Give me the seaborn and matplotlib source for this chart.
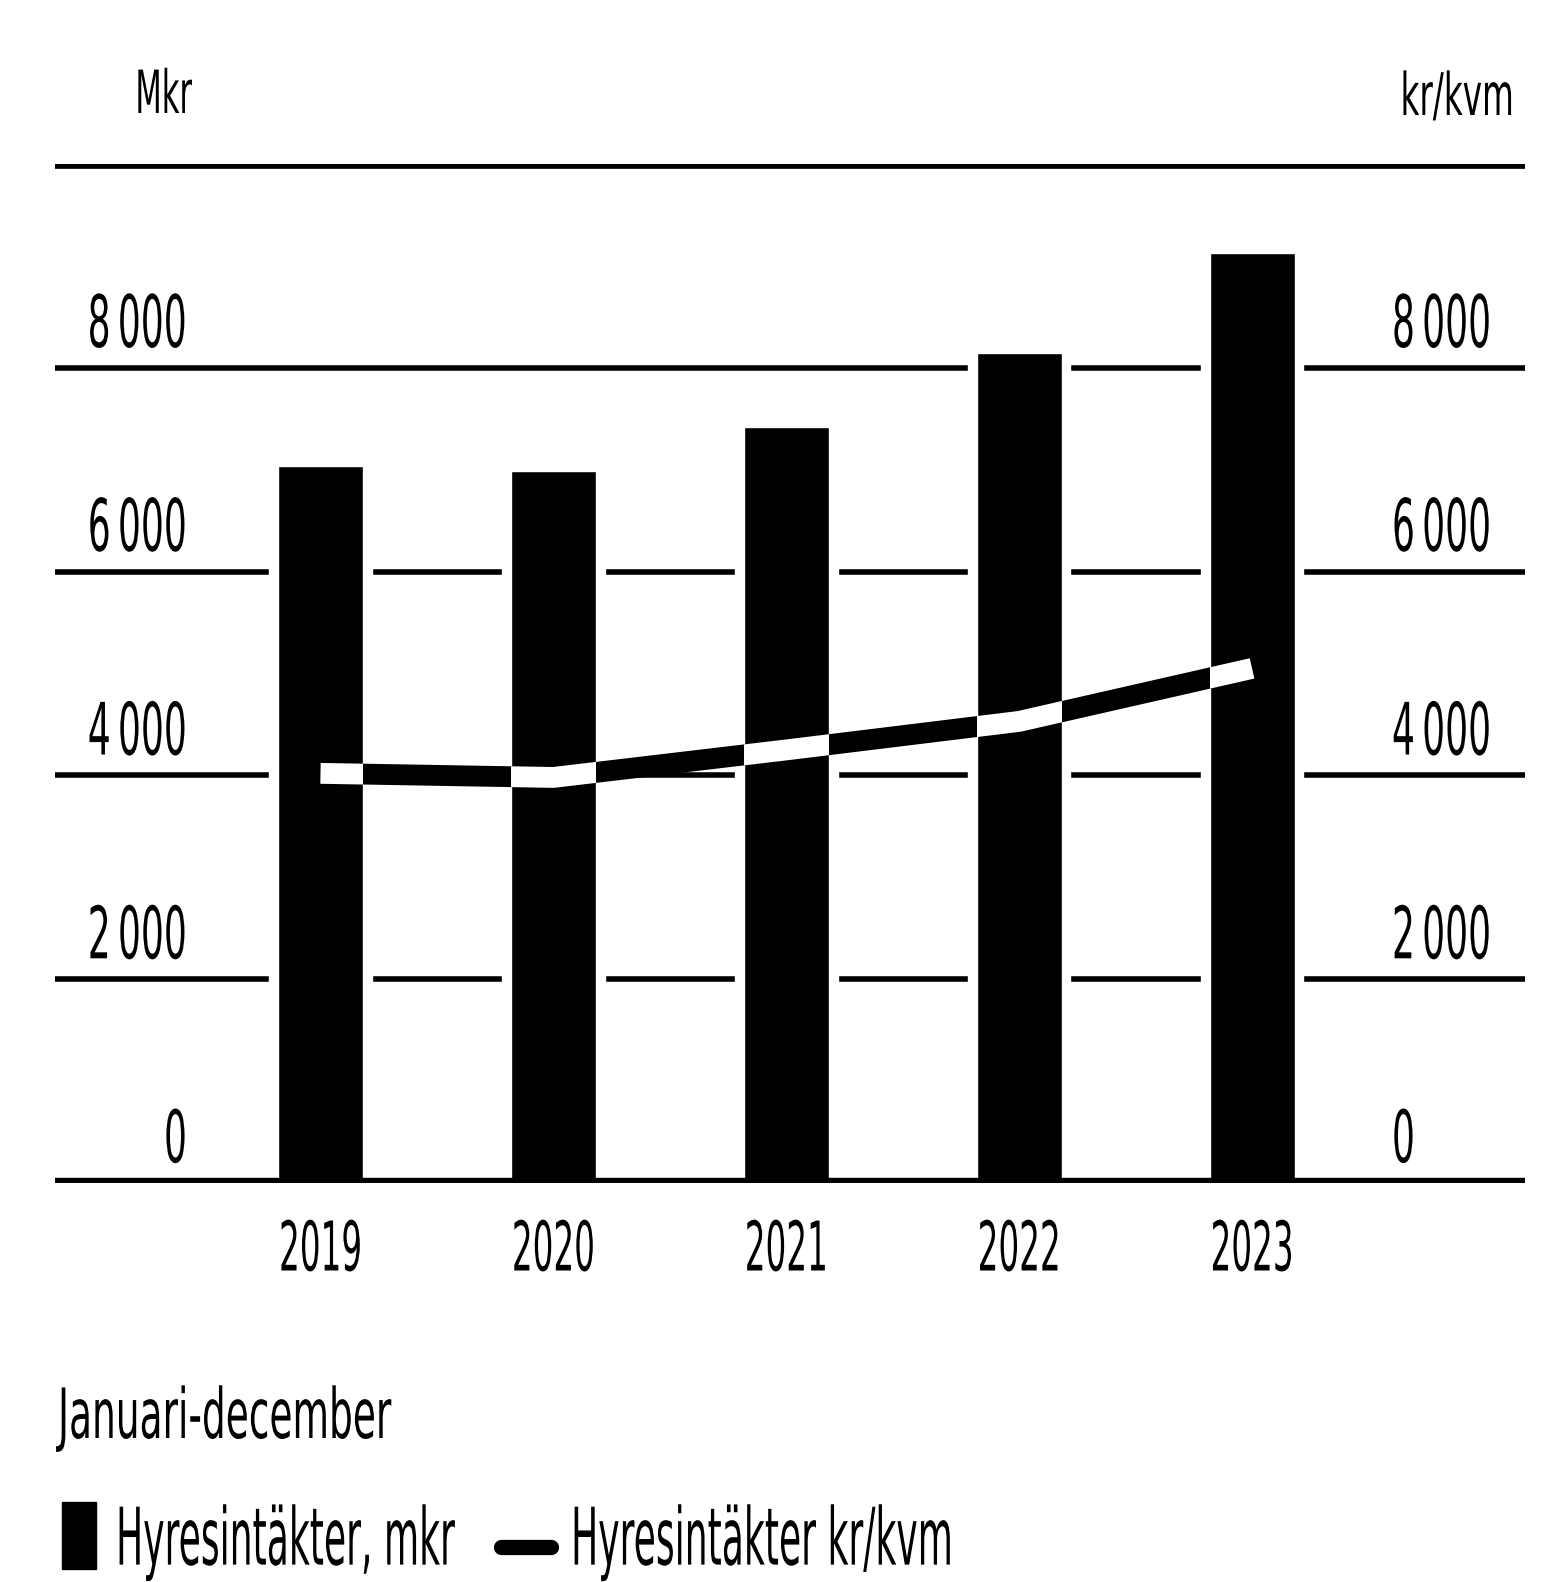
import matplotlib
matplotlib.use("Agg")
import matplotlib.pyplot as plt
import seaborn as sns
import pandas as pd
from matplotlib.patches import Rectangle
from matplotlib.lines import Line2D
from matplotlib.legend_handler import HandlerPatch
from matplotlib.patheffects import AbstractPathEffect
from matplotlib.transforms import Affine2D

# data
years = ["2019", "2020", "2021", "2022", "2023"]
mkr = [7040, 6990, 7420, 8150, 9130]          # Hyresintäkter, mkr (bars)
kr_kvm = [4020, 3980, 4250, 4530, 5050]       # Hyresintäkter kr/kvm (line)
ticks = [0, 2000, 4000, 6000, 8000]
tick_labels = ["0", "2\u2009000", "4\u2009000", "6\u2009000", "8\u2009000"]

df = pd.DataFrame({"year": years, "mkr": mkr, "kvm": kr_kvm, "pos": range(len(years))})


class Tall(AbstractPathEffect):
    """stretch glyphs upward from the baseline (the source uses a tall narrow face)"""
    def __init__(self, sy):
        super().__init__()
        self.sy = sy

    def draw_path(self, renderer, gc, tpath, affine, rgbFace=None):
        renderer.draw_path(gc, tpath, Affine2D().scale(1, self.sy) + affine, rgbFace)


sns.set_style("white")
plt.rcParams["font.family"] = ["DejaVu Sans"]
plt.rcParams["text.color"] = "black"
plt.rcParams["xtick.color"] = "black"

W, H = 1548, 1582
fig = plt.figure(figsize=(W / 100, H / 100), dpi=100)
ax = fig.add_axes([55 / W, 1 - 1183 / H, 1470 / W, 1019 / H])

# gridlines first, white wider bars cut gaps into them
for t in ticks[1:]:
    ax.axhline(t, color="black", lw=4.0, zorder=0)
sns.barplot(data=df, x="year", y="mkr", color="white", width=0.44,
            saturation=1, ax=ax, zorder=1)
n_white = len(ax.patches)
sns.barplot(data=df, x="year", y="mkr", color="black", width=0.365,
            saturation=1, ax=ax, zorder=2)
bars = ax.patches[n_white:]

ax.axhline(0, color="black", lw=7.5, zorder=3)
ax.axhline(10000, color="black", lw=7.0, zorder=3)

# the line: black on white, white where it crosses the bars
sns.lineplot(data=df, x="pos", y="kvm", color="black", lw=15, ax=ax,
             zorder=4, solid_capstyle="butt")
for b in bars:
    ln, = ax.plot(df["pos"], df["kvm"], color="white", lw=15, zorder=5,
                  solid_capstyle="butt")
    ln.set_clip_path(b)

ax.set_xlim(-1.14, 5.172)
ax.set_ylim(0, 10000)
for s in ax.spines.values():
    s.set_visible(False)
ax.set_yticks([])
ax.set_xticks(range(len(years)))
ax.tick_params(axis="x", length=0, pad=63)
ax.set_xticklabels(years, fontsize=23.5, va="baseline",
                   path_effects=[Tall(2.1)])
ax.set_xlabel("")
ax.set_ylabel("")

# axis values drawn above the gridlines on both sides
for t, lab in zip(ticks, tick_labels):
    ax.text(0.0898, t + 205, lab, transform=ax.get_yaxis_transform(),
            ha="right", va="baseline", fontsize=26, path_effects=[Tall(2.0)])
    ax.text(0.9095, t + 205, lab, transform=ax.get_yaxis_transform(),
            ha="left", va="baseline", fontsize=26, path_effects=[Tall(2.0)])

fig.text(192 / W, 1 - 113 / H, "Mkr", ha="right", va="baseline",
         fontsize=22, path_effects=[Tall(1.95)])
fig.text(1514 / W, 1 - 115 / H, "kr/kvm", ha="right", va="baseline",
         fontsize=23.5, path_effects=[Tall(1.8)])
fig.text(58 / W, 1 - 1438 / H, "Januari-december", ha="left",
         va="baseline", fontsize=27, path_effects=[Tall(1.85)])


def square(legend, orig_handle, xdescent, ydescent, width, height, fontsize):
    side = 34 * 72 / 100
    return Rectangle((width - side - xdescent, -ydescent + 6), side, 48)


handles = [Rectangle((0, 0), 1, 1, facecolor="black", edgecolor="black"),
           Line2D([0], [0], color="black", lw=11)]
leg = fig.legend(handles, ["Hyresintäkter, mkr", "Hyresintäkter kr/kvm"],
                 loc="lower left", bbox_to_anchor=(46 / W, 0.003), ncol=2,
                 frameon=False, fontsize=26, handlelength=1.39,
                 handleheight=1.7, handletextpad=0.55, columnspacing=1.28,
                 borderaxespad=0.0, borderpad=0.0,
                 handler_map={Rectangle: HandlerPatch(patch_func=square)})
for txt in leg.get_texts():
    txt.set_path_effects([Tall(2.2)])

fig.savefig("out.png", dpi=100, facecolor="white")
